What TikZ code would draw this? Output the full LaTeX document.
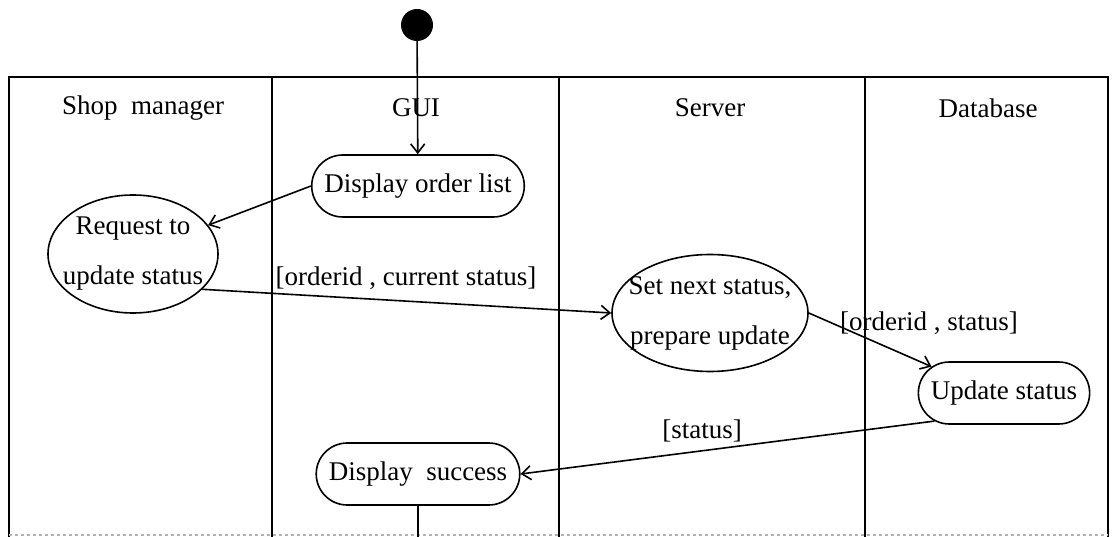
\documentclass[tikz,border=0pt]{standalone}
\usepackage{fontspec}
\setmainfont{Liberation Serif}
\usetikzlibrary{arrows.meta,shapes.misc,shapes.geometric}

\begin{document}
\begin{tikzpicture}[x=1pt,y=-1pt]
    \pgfmathsetmacro{\laneTop}{77}
    \pgfmathsetmacro{\laneBot}{537}
    \tikzset{every node/.style={font=\fontsize{27}{50}\selectfont}}
    \tikzset{lane/.style={line width=1.6pt}}
    \tikzset{act/.style={draw,line width=1.6pt,rounded rectangle,inner xsep=10pt,minimum height=62pt}}
    \tikzset{oval/.style={draw,line width=1.6pt,ellipse,inner sep=0pt,align=center}}
    \tikzset{flow/.style={line width=1.6pt,-{Straight Barb[length=9pt,width=14pt]}}}
    \tikzset{startdot/.style={circle,fill=black,minimum size=32pt,inner sep=0pt}}
    \useasboundingbox (0,0) rectangle (1112,537);
    % swimlanes
    \draw[lane] (9,\laneBot) -- (9,\laneTop) -- (1108,\laneTop) -- (1108,\laneBot);
    \foreach \x in {272,559,865} \draw[lane] (\x,\laneTop) -- (\x,\laneBot);
    \draw[gray!60,dashed,line width=1.5pt] (9,535) -- (1108,535);
    \node (laneShop) at (143,108) {Shop~ manager};
    \node (laneGui) at (416,108) {GUI};
    \node (laneServer) at (710,108) {Server};
    \node (laneDb) at (988,108) {Database};
    % activities
    \node[startdot] (start) at (417,25) {};
    \node[act] (dispList) at (418,186) {Display order list};
    \node[oval,minimum width=170pt,minimum height=118pt] (request) at (133,254) {\makebox[0pt]{Request to}\\\makebox[0pt]{update status}};
    \node[oval,minimum width=196pt,minimum height=117pt] (nextStatus) at (710,313) {\makebox[0pt]{Set next status,}\\\makebox[0pt]{prepare update}};
    \node[act] (updStatus) at (1004,393) {Update status};
    \node[act] (dispOk) at (418,474) {Display~ success};
    \coordinate (dispOkEnd) at (418,537);
    % guards
    \node (guardCur) at (406,278) {[orderid , current status]};
    \node (guardUpd) at (929,323) {[orderid , status]};
    \node (guardRet) at (702,431) {[status]};
    % transitions
    \draw[flow] (start) -- (dispList);
    \draw[flow] (dispList.west) -- (request.21);
    \draw[flow] (request.-27) -- (nextStatus.west);
    \draw[flow] (nextStatus.east) -- (updStatus.160);
    \draw[flow] (updStatus.202) -- (dispOk.east);
    \draw[lane] (dispOk.south) -- (dispOkEnd);
\end{tikzpicture}
\end{document}
